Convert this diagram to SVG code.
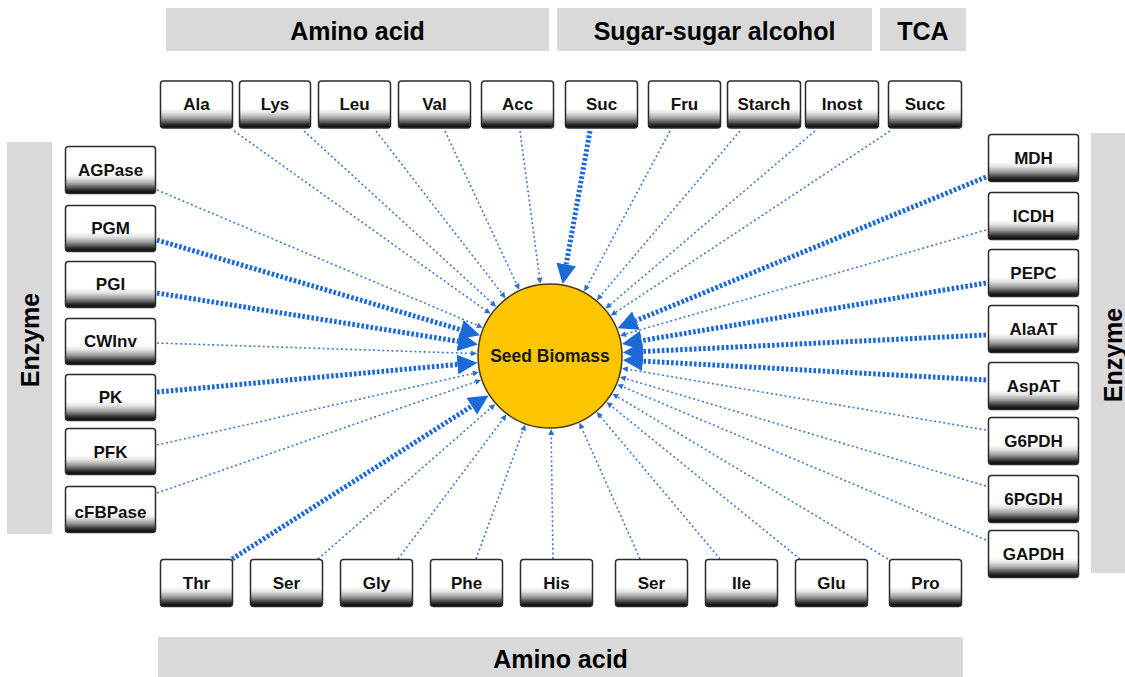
<svg xmlns="http://www.w3.org/2000/svg" width="1125" height="677" viewBox="0 0 1125 677">
  <style>
    .band { fill: #d9d9d9; }
    .band-label { font-family: "Liberation Sans", Arial, sans-serif; font-weight: bold; font-size: 25px; fill: #000; text-anchor: middle; }
    .box { fill: url(#boxFill); stroke: #2b2b2b; stroke-width: 1.5; }
    .box-label { font-family: "Liberation Sans", Arial, sans-serif; font-weight: bold; font-size: 17px; fill: #111; text-anchor: middle; }
    .thin { stroke: #3d7ad2; stroke-width: 1.6; stroke-dasharray: 2 2.6; fill: none; marker-end: url(#headThin); }
    .thick { stroke: #1b6ad6; stroke-width: 5; stroke-dasharray: 2.6 2; fill: none; marker-end: url(#headThick); }
    .hub { fill: #fdc400; stroke: #4a3b10; stroke-width: 1.5; }
    .hub-label { font-family: "Liberation Sans", Arial, sans-serif; font-weight: bold; font-size: 17.5px; fill: #1a1a1a; text-anchor: middle; }
  </style>
  <defs>
    <linearGradient id="boxFill" x1="0" y1="0" x2="0" y2="1">
      <stop offset="0" stop-color="#ffffff"/>
      <stop offset="0.58" stop-color="#ffffff"/>
      <stop offset="0.68" stop-color="#e4e4e4"/>
      <stop offset="0.8" stop-color="#9a9a9a"/>
      <stop offset="0.92" stop-color="#303030"/>
      <stop offset="1" stop-color="#000000"/>
    </linearGradient>
    <marker id="headThin" markerUnits="userSpaceOnUse" markerWidth="7" markerHeight="6" refX="0" refY="3" orient="auto">
      <path d="M0,0 L6,3 L0,6 z" fill="#2f6fcc"/>
    </marker>
    <marker id="headThick" markerUnits="userSpaceOnUse" markerWidth="22" markerHeight="20" refX="0" refY="10" orient="auto">
      <path d="M0,0 L20,10 L0,20 z" fill="#1b6ad6"/>
    </marker>
  </defs>

  <rect width="1125" height="677" fill="#ffffff"/>

  <!-- category bands -->
  <g id="band-amino-top">
    <rect class="band" x="166" y="8" width="383" height="43"/>
    <text class="band-label" x="357.5" y="40">Amino acid</text>
  </g>
  <g id="band-sugar">
    <rect class="band" x="557" y="8" width="315" height="43"/>
    <text class="band-label" x="714.5" y="40">Sugar-sugar alcohol</text>
  </g>
  <g id="band-tca">
    <rect class="band" x="880" y="8" width="86" height="43"/>
    <text class="band-label" x="923" y="40">TCA</text>
  </g>
  <g id="band-amino-bottom">
    <rect class="band" x="158" y="637" width="805" height="40"/>
    <text class="band-label" x="560.5" y="668">Amino acid</text>
  </g>
  <g id="band-enzyme-left">
    <rect class="band" x="7" y="142" width="45" height="392"/>
    <text class="band-label" transform="translate(30,340) rotate(-90)" x="0" y="9">Enzyme</text>
  </g>
  <g id="band-enzyme-right">
    <rect class="band" x="1091" y="133" width="34" height="440"/>
    <text class="band-label" transform="translate(1113,355) rotate(-90)" x="0" y="9">Enzyme</text>
  </g>

  <!-- connectors -->
  <g id="connectors">
    <!-- top row -->
    <line class="thin" x1="234" y1="131" x2="485.6" y2="310.3"/>
    <line class="thin" x1="304" y1="131" x2="491.7" y2="302.7"/>
    <line class="thin" x1="376" y1="131" x2="501.8" y2="293.4"/>
    <line class="thin" x1="445" y1="131" x2="516.7" y2="284.3"/>
    <line class="thin" x1="520" y1="131" x2="539.6" y2="277.7"/>
    <line class="thick" x1="590" y1="131" x2="566.2" y2="264.4"/>
    <line class="thin" x1="670" y1="131" x2="587.1" y2="286.2"/>
    <line class="thin" x1="740" y1="131" x2="600.8" y2="295.6"/>
    <line class="thin" x1="815" y1="131" x2="610.1" y2="304.7"/>
    <line class="thin" x1="890" y1="131" x2="615.8" y2="312.2"/>
    <!-- left column -->
    <line class="thin" x1="157" y1="190" x2="477.2" y2="325.3"/>
    <line class="thick" x1="157" y1="240" x2="460.8" y2="329.7"/>
    <line class="thick" x1="157" y1="293" x2="458.2" y2="341.3"/>
    <line class="thin" x1="157" y1="343" x2="471" y2="353.4"/>
    <line class="thick" x1="157" y1="392" x2="457.4" y2="364.5"/>
    <line class="thin" x1="157" y1="445" x2="472.9" y2="373.5"/>
    <line class="thin" x1="157" y1="493" x2="475.4" y2="382"/>
    <!-- right column -->
    <line class="thick" x1="986" y1="177" x2="636" y2="320.6"/>
    <line class="thin" x1="986" y1="230" x2="625.9" y2="334"/>
    <line class="thick" x1="986" y1="283" x2="641.7" y2="340.6"/>
    <line class="thick" x1="986" y1="335" x2="642.9" y2="351.5"/>
    <line class="thick" x1="986" y1="380" x2="642.8" y2="361.1"/>
    <line class="thin" x1="986" y1="430" x2="627.9" y2="369.3"/>
    <line class="thin" x1="986" y1="486" x2="625.7" y2="378.6"/>
    <line class="thin" x1="986" y1="540" x2="622.8" y2="386.8"/>
    <!-- bottom row -->
    <line class="thick" x1="232" y1="559" x2="471.7" y2="406.2"/>
    <line class="thin" x1="318" y1="559" x2="490.7" y2="408.1"/>
    <line class="thin" x1="398" y1="559" x2="502.8" y2="419.4"/>
    <line class="thin" x1="476" y1="559" x2="523.1" y2="430.3"/>
    <line class="thin" x1="553" y1="559" x2="551.2" y2="435"/>
    <line class="thin" x1="640" y1="559" x2="581.9" y2="428.3"/>
    <line class="thin" x1="720" y1="559" x2="600.6" y2="416.7"/>
    <line class="thin" x1="800" y1="559" x2="611.2" y2="405.9"/>
    <line class="thin" x1="888" y1="559" x2="617.6" y2="396.8"/>
  </g>

  <!-- hub -->
  <g id="seed-biomass">
    <circle class="hub" cx="550" cy="356" r="72"/>
    <text class="hub-label" x="550" y="362">Seed Biomass</text>
  </g>

  <!-- top row nodes -->
  <g id="ala"><rect class="box" x="160.5" y="81" width="72" height="47" rx="3"/><text class="box-label" x="196.5" y="110">Ala</text></g>
  <g id="lys"><rect class="box" x="239.5" y="81" width="71" height="47" rx="3"/><text class="box-label" x="275" y="110">Lys</text></g>
  <g id="leu"><rect class="box" x="318.5" y="81" width="72" height="47" rx="3"/><text class="box-label" x="354.5" y="110">Leu</text></g>
  <g id="val"><rect class="box" x="398.5" y="81" width="72" height="47" rx="3"/><text class="box-label" x="434.5" y="110">Val</text></g>
  <g id="acc"><rect class="box" x="481.5" y="81" width="72" height="47" rx="3"/><text class="box-label" x="517.5" y="110">Acc</text></g>
  <g id="suc"><rect class="box" x="565.5" y="81" width="72" height="47" rx="3"/><text class="box-label" x="601.5" y="110">Suc</text></g>
  <g id="fru"><rect class="box" x="648.5" y="81" width="72" height="47" rx="3"/><text class="box-label" x="684.5" y="110">Fru</text></g>
  <g id="starch"><rect class="box" x="727.5" y="81" width="73" height="47" rx="3"/><text class="box-label" x="764" y="110">Starch</text></g>
  <g id="inost"><rect class="box" x="805.5" y="81" width="73" height="47" rx="3"/><text class="box-label" x="842" y="110">Inost</text></g>
  <g id="succ"><rect class="box" x="888.5" y="81" width="73" height="47" rx="3"/><text class="box-label" x="925" y="110">Succ</text></g>

  <!-- left column nodes -->
  <g id="agpase"><rect class="box" x="65.5" y="146.5" width="90" height="47" rx="3"/><text class="box-label" x="110.5" y="176">AGPase</text></g>
  <g id="pgm"><rect class="box" x="65.5" y="205.5" width="90" height="46" rx="3"/><text class="box-label" x="110.5" y="234">PGM</text></g>
  <g id="pgi"><rect class="box" x="65.5" y="261.5" width="90" height="46" rx="3"/><text class="box-label" x="110.5" y="290">PGI</text></g>
  <g id="cwinv"><rect class="box" x="65.5" y="318.5" width="90" height="46" rx="3"/><text class="box-label" x="110.5" y="347">CWInv</text></g>
  <g id="pk"><rect class="box" x="65.5" y="374.5" width="90" height="46" rx="3"/><text class="box-label" x="110.5" y="403">PK</text></g>
  <g id="pfk"><rect class="box" x="65.5" y="428.5" width="90" height="46" rx="3"/><text class="box-label" x="110.5" y="458">PFK</text></g>
  <g id="cfbpase"><rect class="box" x="65.5" y="486.5" width="90" height="46" rx="3"/><text class="box-label" x="110.5" y="518">cFBPase</text></g>

  <!-- right column nodes -->
  <g id="mdh"><rect class="box" x="988.5" y="134.5" width="90" height="47" rx="3"/><text class="box-label" x="1033.5" y="164">MDH</text></g>
  <g id="icdh"><rect class="box" x="988.5" y="192.5" width="90" height="47" rx="3"/><text class="box-label" x="1033.5" y="222">ICDH</text></g>
  <g id="pepc"><rect class="box" x="988.5" y="249.5" width="90" height="47" rx="3"/><text class="box-label" x="1033.5" y="279">PEPC</text></g>
  <g id="alaat"><rect class="box" x="988.5" y="305.5" width="90" height="47" rx="3"/><text class="box-label" x="1033.5" y="335">AlaAT</text></g>
  <g id="aspat"><rect class="box" x="988.5" y="362.5" width="90" height="47" rx="3"/><text class="box-label" x="1033.5" y="392">AspAT</text></g>
  <g id="g6pdh"><rect class="box" x="988.5" y="417.5" width="90" height="47" rx="3"/><text class="box-label" x="1033.5" y="447">G6PDH</text></g>
  <g id="pgdh6"><rect class="box" x="988.5" y="475.5" width="90" height="47" rx="3"/><text class="box-label" x="1033.5" y="505">6PGDH</text></g>
  <g id="gapdh"><rect class="box" x="988.5" y="530.5" width="90" height="47" rx="3"/><text class="box-label" x="1033.5" y="560">GAPDH</text></g>

  <!-- bottom row nodes -->
  <g id="thr"><rect class="box" x="160.5" y="559.5" width="72" height="47" rx="3"/><text class="box-label" x="196.5" y="589">Thr</text></g>
  <g id="ser-1"><rect class="box" x="250.5" y="559.5" width="72" height="47" rx="3"/><text class="box-label" x="286.5" y="589">Ser</text></g>
  <g id="gly"><rect class="box" x="340.5" y="559.5" width="72" height="47" rx="3"/><text class="box-label" x="376.5" y="589">Gly</text></g>
  <g id="phe"><rect class="box" x="430.5" y="559.5" width="72" height="47" rx="3"/><text class="box-label" x="466.5" y="589">Phe</text></g>
  <g id="his"><rect class="box" x="520.5" y="559.5" width="72" height="47" rx="3"/><text class="box-label" x="556.5" y="589">His</text></g>
  <g id="ser-2"><rect class="box" x="615.5" y="559.5" width="72" height="47" rx="3"/><text class="box-label" x="651.5" y="589">Ser</text></g>
  <g id="ile"><rect class="box" x="705.5" y="559.5" width="72" height="47" rx="3"/><text class="box-label" x="741.5" y="589">Ile</text></g>
  <g id="glu"><rect class="box" x="795.5" y="559.5" width="72" height="47" rx="3"/><text class="box-label" x="831.5" y="589">Glu</text></g>
  <g id="pro"><rect class="box" x="889.5" y="559.5" width="72" height="47" rx="3"/><text class="box-label" x="925.5" y="589">Pro</text></g>
</svg>
